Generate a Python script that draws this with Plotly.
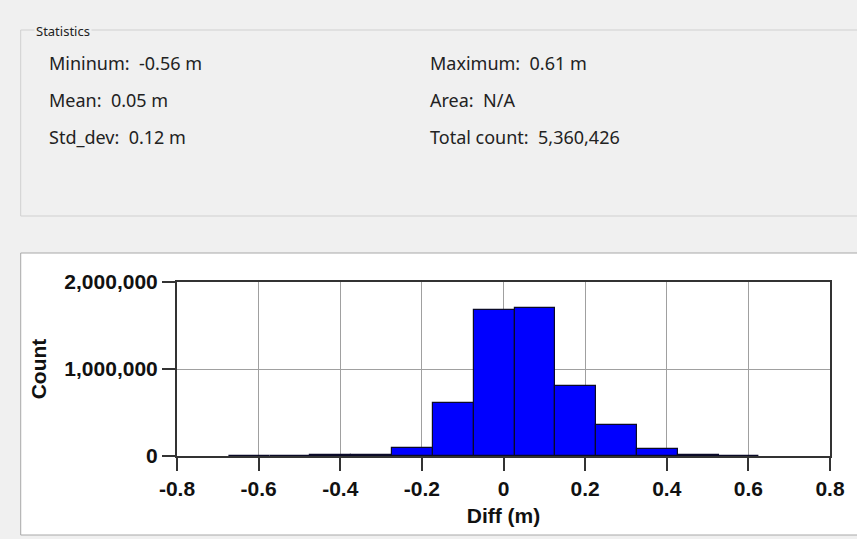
import plotly.graph_objects as go

# ---- data ----
bin_centers = [-0.623, -0.523, -0.423, -0.323, -0.223, -0.123, -0.023,
               0.077, 0.177, 0.277, 0.377, 0.477, 0.577]
bin_width = 0.1
counts = [3000, 4000, 6000, 12000, 95000, 610000, 1680000,
          1700000, 810000, 360000, 80000, 10000, 4000]

x_tick_vals = [-0.8, -0.6, -0.4, -0.2, 0.0, 0.2, 0.4, 0.6, 0.8]
x_tick_text = ["-0.8", "-0.6", "-0.4", "-0.2", "0", "0.2", "0.4", "0.6", "0.8"]
y_tick_vals = [0, 1000000, 2000000]
y_tick_text = ["0", "1,000,000", "2,000,000"]

stat_left = ["Mininum:  -0.56 m", "Mean:  0.05 m", "Std_dev:  0.12 m"]
stat_right = ["Maximum:  0.61 m", "Area:  N/A", "Total count:  5,360,426"]

# ---- geometry (pixels) ----
W, H = 857, 539
PL, PR, PT, PB = 177, 833, 282, 456


def px(x):
    return (x - PL) / (PR - PL)


def py(y):
    return (PB - y) / (PB - PT)


fig = go.Figure()
fig.add_trace(go.Bar(
    x=bin_centers, y=counts, width=[bin_width] * len(bin_centers),
    marker=dict(color="#0000ff", line=dict(color="#0a0a28", width=1.2)),
    hoverinfo="x+y",
))

shapes = [
    # statistics group box
    dict(type="rect", xref="paper", yref="paper",
         x0=px(20), x1=px(870), y0=py(30), y1=py(216),
         line=dict(color="#d0d0d0", width=1), fillcolor="rgba(0,0,0,0)", layer="below"),
    # chart panel
    dict(type="rect", xref="paper", yref="paper",
         x0=px(20), x1=px(870), y0=py(253), y1=py(535),
         line=dict(color="#a8a8a8", width=1), fillcolor="#ffffff", layer="below"),
]

stat_font = dict(family="Noto Sans", size=18, color="#222222")
annotations = [
    dict(text="Statistics", xref="paper", yref="paper", x=px(33), y=py(31),
         xanchor="left", yanchor="middle", showarrow=False, bgcolor="#f0f0f0",
         font=dict(family="Noto Sans", size=13, color="#222222")),
]
rows_y = [63, 100, 137]
for lbl, yy in zip(stat_left, rows_y):
    annotations.append(dict(text=lbl.replace("  ", "&nbsp; "), xref="paper", yref="paper",
                            x=px(46), y=py(yy), xanchor="left", yanchor="middle",
                            showarrow=False, font=stat_font))
for lbl, yy in zip(stat_right, rows_y):
    annotations.append(dict(text=lbl.replace("  ", "&nbsp; "), xref="paper", yref="paper",
                            x=px(429), y=py(yy), xanchor="left", yanchor="middle",
                            showarrow=False, font=stat_font))

axis_font = dict(family="Liberation Sans", size=21, color="#111111", weight="bold")

fig.update_layout(
    width=W, height=H,
    margin=dict(l=PL, r=W - PR, t=PT, b=H - PB),
    paper_bgcolor="#f0f0f0",
    plot_bgcolor="#ffffff",
    showlegend=False,
    bargap=0,
    shapes=shapes,
    annotations=annotations,
    xaxis=dict(
        range=[-0.8, 0.8], tickvals=x_tick_vals, ticktext=x_tick_text,
        showgrid=True, gridcolor="#a0a0a0", gridwidth=1, zeroline=False,
        showline=True, mirror=True, linecolor="#333333", linewidth=2,
        ticks="outside", ticklen=13, tickwidth=2, tickcolor="#333333",
        tickfont=axis_font,
        title=dict(text="Diff (m)", font=axis_font, standoff=9),
    ),
    yaxis=dict(
        range=[0, 2000000], tickvals=y_tick_vals, ticktext=y_tick_text,
        showgrid=True, gridcolor="#a0a0a0", gridwidth=1, zeroline=False,
        showline=True, mirror=True, linecolor="#333333", linewidth=2,
        ticks="outside", ticklen=13, tickwidth=2, tickcolor="#333333",
        tickfont=axis_font,
        title=dict(text="Count", font=axis_font, standoff=12),
    ),
)

fig.write_html("out.html")
